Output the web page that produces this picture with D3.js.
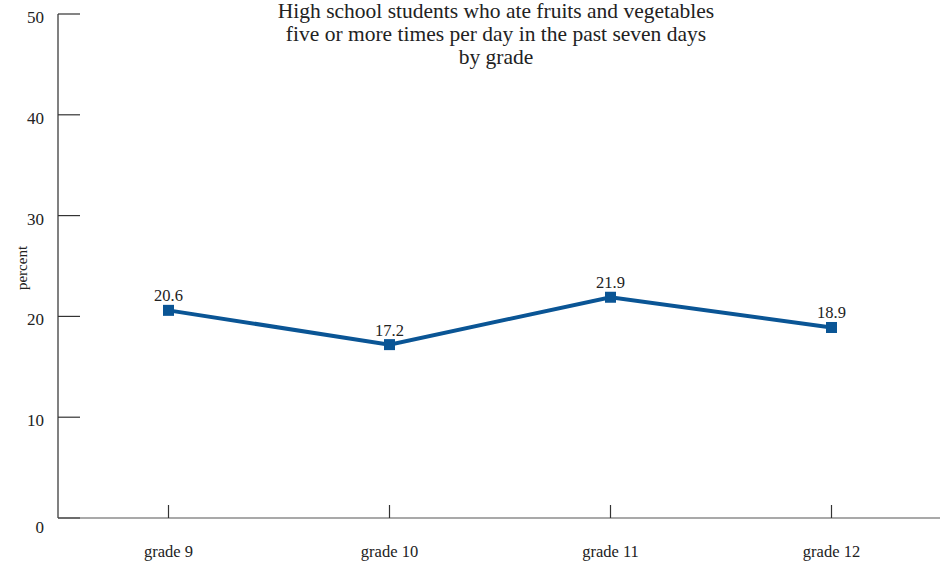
<!DOCTYPE html>
<html><head><meta charset="utf-8">
<script src="https://cdn.jsdelivr.net/npm/d3@7"></script>
<style>
body{margin:0;background:#fff;}
text{font-family:"Liberation Serif","DejaVu Serif",serif;fill:#222;}
</style></head>
<body><svg id="c" width="944" height="564"></svg>
<script>
const categories = ["grade 9","grade 10","grade 11","grade 12"];
const values = [20.6, 17.2, 21.9, 18.9];
const yTicks = [0,10,20,30,40,50];
const titleLines = ["High school students who ate fruits and vegetables","five or more times per day in the past seven days","by grade"];

(function(){
const svg = d3.select("#c");
const mL = 58, mR = 942, mT = 14, mB = 518;
const x = d3.scaleBand().domain(categories).range([mL, mR]);
const y = d3.scaleLinear().domain([0,50]).range([mB, mT]);

// y axis
const ya = svg.append("g");
ya.append("line").attr("x1",mL).attr("x2",mL).attr("y1",mT).attr("y2",mB)
  .attr("stroke","#808080").attr("stroke-width",2);
yTicks.forEach(t=>{
  ya.append("line").attr("x1",mL).attr("x2",mL+22).attr("y1",y(t)).attr("y2",y(t))
    .attr("stroke","#333").attr("stroke-width",1.2);
  ya.append("text").attr("x",44).attr("y",y(t)+(t===0?9:3)).attr("dy","0.35em")
    .attr("text-anchor","end").attr("font-size",17).text(t);
});
// x axis
svg.append("line").attr("x1",mL).attr("x2",940).attr("y1",mB).attr("y2",mB)
  .attr("stroke","#555").attr("stroke-width",1.2);
categories.forEach(c=>{
  const cx = x(c)+x.bandwidth()/2;
  svg.append("line").attr("x1",cx).attr("x2",cx).attr("y1",mB).attr("y2",mB-13)
    .attr("stroke","#333").attr("stroke-width",1.2);
  svg.append("text").attr("x",cx).attr("y",557).attr("text-anchor","middle")
    .attr("font-size",16.5).text(c);
});
// y label
svg.append("text").attr("transform","translate(27,268) rotate(-90)")
  .attr("text-anchor","middle").attr("font-size",15).text("percent");
// title
titleLines.forEach((t,i)=>{
  svg.append("text").attr("x",496).attr("y",18+i*23).attr("text-anchor","middle")
    .attr("font-size",21.5).text(t);
});
// line
const pts = categories.map((c,i)=>[x(c)+x.bandwidth()/2, y(values[i])]);
svg.append("path").attr("d",d3.line()(pts)).attr("fill","none")
  .attr("stroke","#0a5595").attr("stroke-width",4).attr("stroke-linejoin","miter");
pts.forEach((p,i)=>{
  svg.append("rect").attr("x",p[0]-5.5).attr("y",p[1]-5.5).attr("width",11).attr("height",11)
    .attr("fill","#0a5595");
  svg.append("text").attr("x",p[0]).attr("y",p[1]-9).attr("text-anchor","middle")
    .attr("font-size",16.5).text(values[i].toFixed(1));
});
})();
</script></body></html>
